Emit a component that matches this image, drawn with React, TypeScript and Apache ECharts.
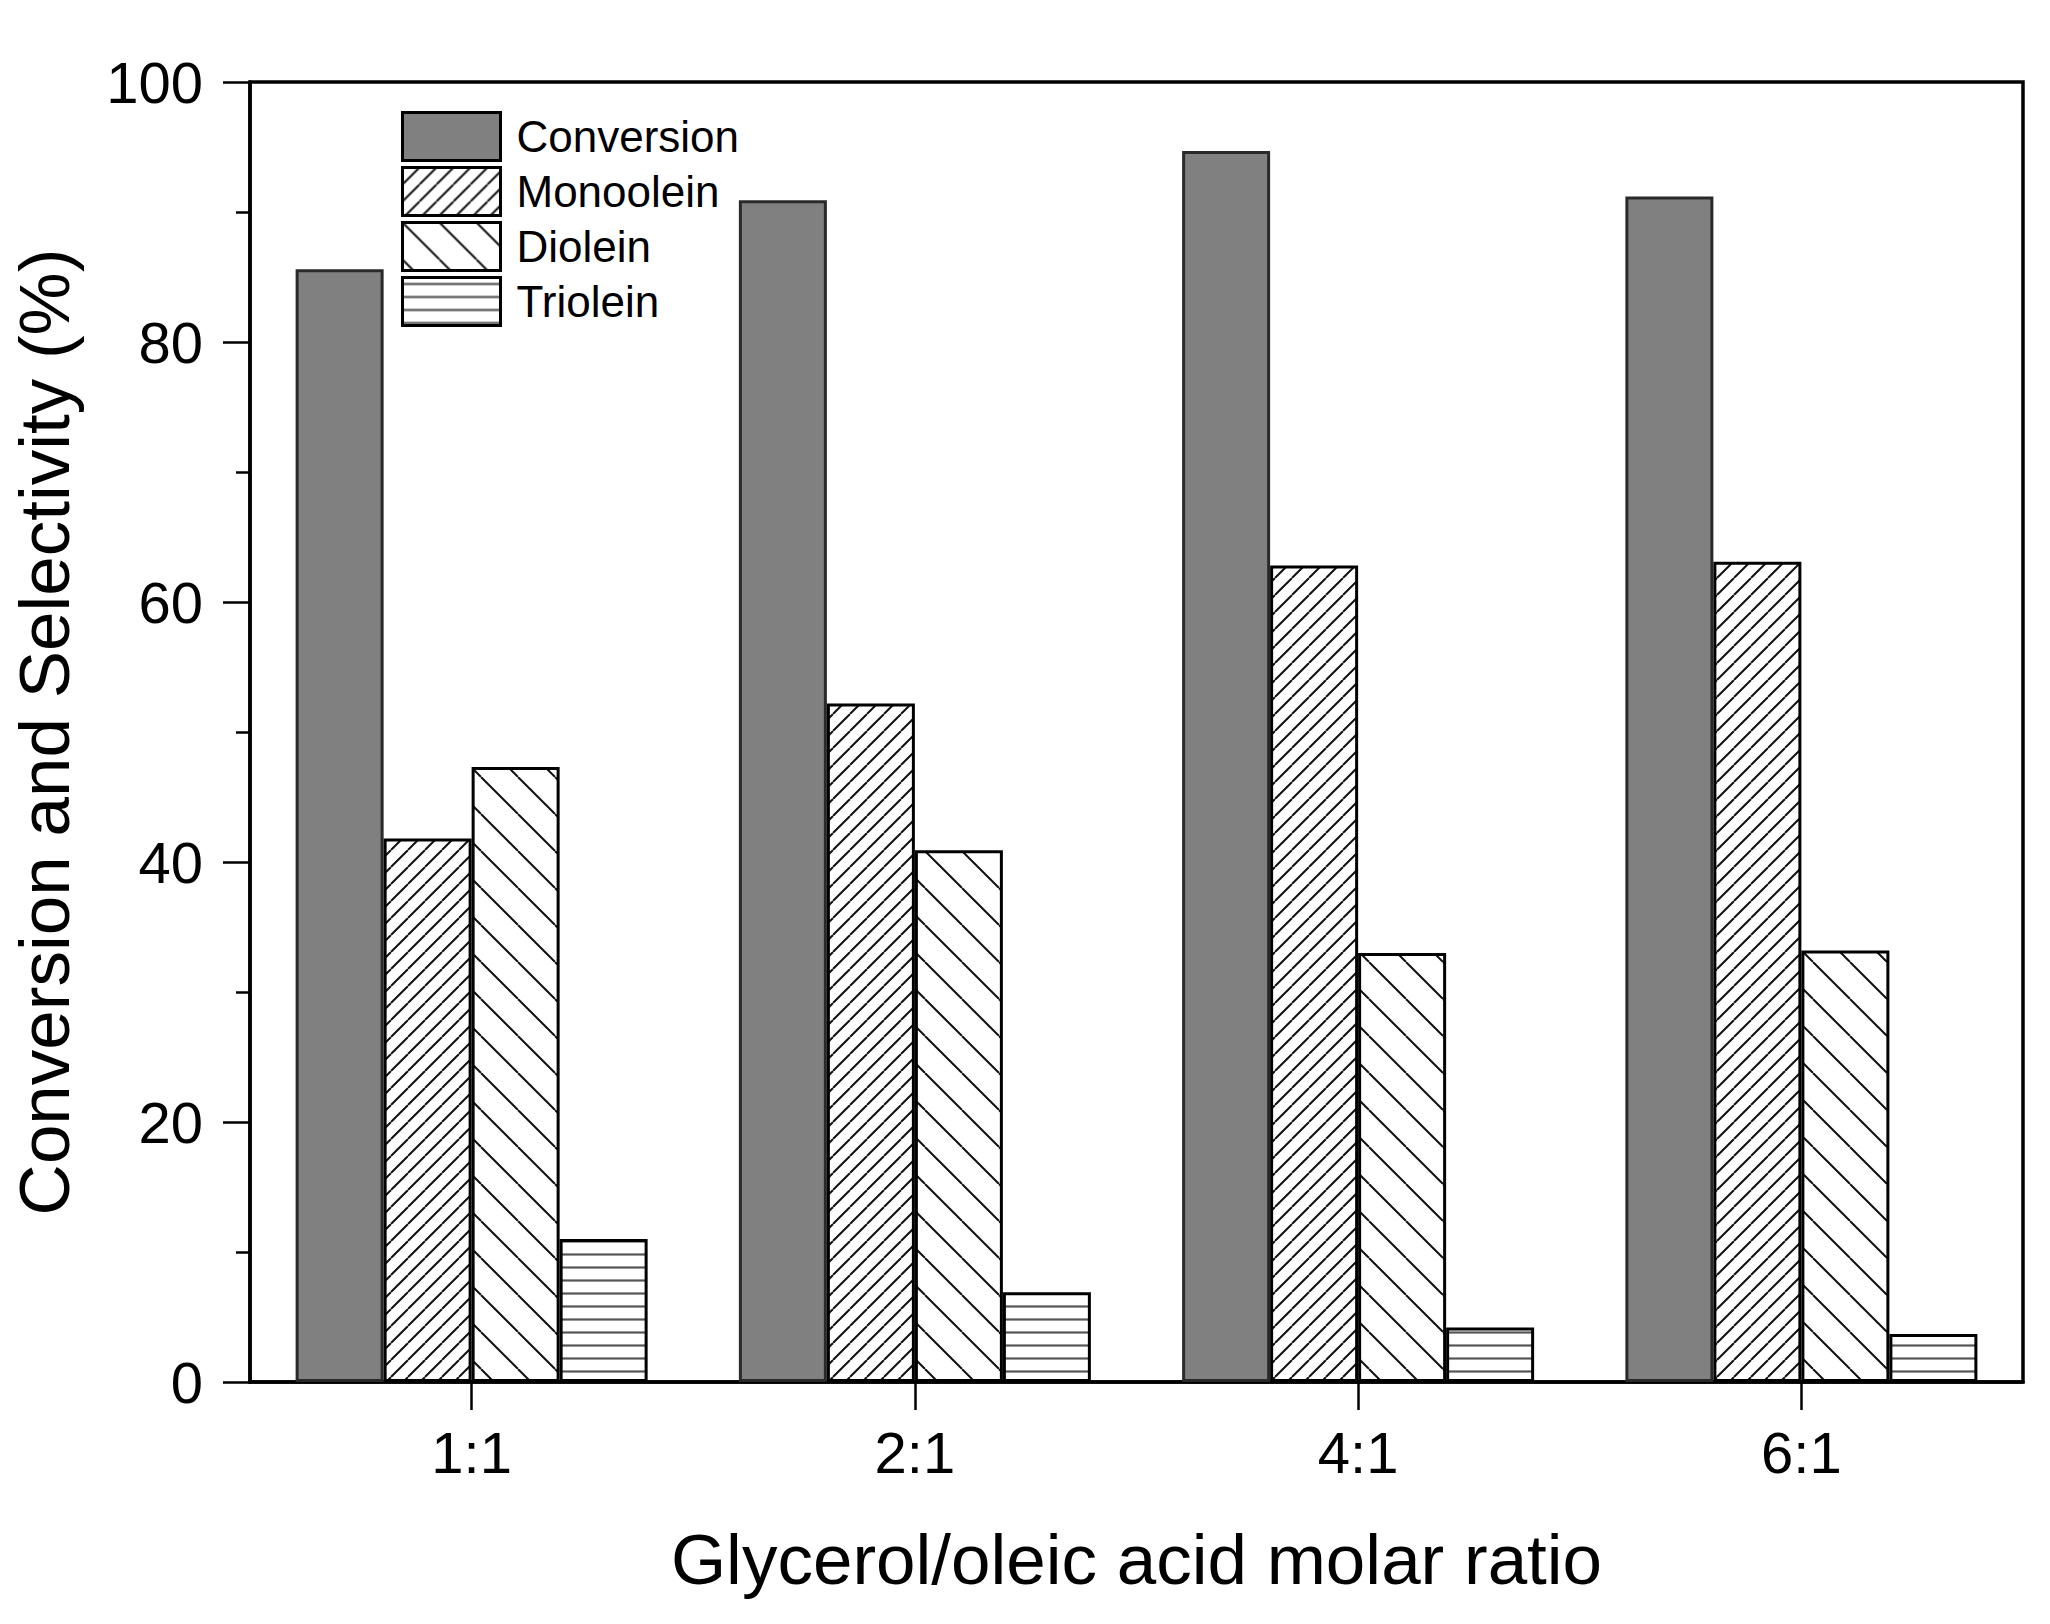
import React, { useEffect, useRef } from 'react';
import * as echarts from 'echarts';

const categories = ['1:1', '2:1', '4:1', '6:1'];
const seriesNames = ['Conversion', 'Monoolein', 'Diolein', 'Triolein'];
const conversion = [85.6, 90.9, 94.7, 91.2];
const monoolein = [41.8, 52.2, 62.8, 63.1];
const diolein = [47.3, 40.9, 33.0, 33.2];
const triolein = [11.0, 6.9, 4.2, 3.7];
const yMin = 0;
const yMax = 100;
const yInterval = 20;

const FONT = "'Liberation Sans', Arial, Helvetica, sans-serif";

function makeHatch(kind: string, size: number, color: string, lw: number) {
  const c = document.createElement('canvas');
  c.width = size;
  c.height = size;
  const ctx = c.getContext('2d') as CanvasRenderingContext2D;
  ctx.fillStyle = '#ffffff';
  ctx.fillRect(0, 0, size, size);
  ctx.strokeStyle = color;
  ctx.lineWidth = lw;
  ctx.beginPath();
  if (kind === 'fwd') {
    for (const o of [-size, 0, size]) {
      ctx.moveTo(o, size);
      ctx.lineTo(o + size, 0);
    }
  } else if (kind === 'back') {
    for (const o of [-size, 0, size]) {
      ctx.moveTo(o, 0);
      ctx.lineTo(o + size, size);
    }
  } else {
    ctx.moveTo(0, size / 2);
    ctx.lineTo(size, size / 2);
  }
  ctx.stroke();
  return { type: 'pattern', image: c, repeat: 'repeat', imageWidth: size, imageHeight: size } as any;
}

export default function App() {
  const ref = useRef<HTMLDivElement>(null);
  useEffect(() => {
    document.body.style.margin = '0';
    if (!ref.current) return;
    const chart = echarts.init(ref.current, undefined, { renderer: 'svg' });
    const monoPattern = makeHatch('fwd', 17, '#111111', 2);
    const dioPattern = makeHatch('back', 37, '#111111', 2);
    const triPattern = makeHatch('horiz', 13, '#555555', 2.2);
    const values = [conversion, monoolein, diolein, triolein];
    const fills: any[] = ['#808080', monoPattern, dioPattern, triPattern];
    const borders = ['#2a2a2a', '#000000', '#000000', '#000000'];
    chart.setOption({
      animation: false,
      backgroundColor: '#ffffff',
      grid: {
        left: 250,
        right: 27,
        top: 82,
        bottom: 242,
        show: true,
        borderColor: '#000',
        borderWidth: 3.5,
        backgroundColor: 'transparent',
      },
      legend: {
        orient: 'vertical',
        left: 401,
        top: 111,
        padding: 0,
        itemWidth: 98,
        itemHeight: 48,
        itemGap: 4,
        icon: 'rect',
        selectedMode: false,
        data: seriesNames,
        itemStyle: { borderColor: '#000', borderWidth: 3 },
        textStyle: {
          fontSize: 44,
          color: '#000',
          fontFamily: FONT,
          padding: [0, 0, 0, 11],
          lineHeight: 48,
        },
      },
      xAxis: {
        type: 'category',
        data: categories,
        name: 'Glycerol/oleic acid molar ratio',
        nameLocation: 'middle',
        nameGap: 142,
        nameTextStyle: { fontSize: 71, color: '#000', fontFamily: FONT },
        axisLine: { show: true, lineStyle: { color: '#000', width: 3.5 } },
        axisTick: { show: true, alignWithLabel: true, length: 28, lineStyle: { color: '#000', width: 2.5 } },
        axisLabel: { fontSize: 58, color: '#000', fontFamily: FONT, margin: 41 },
        splitLine: { show: false },
      },
      yAxis: {
        type: 'value',
        min: yMin,
        max: yMax,
        interval: yInterval,
        name: 'Conversion and Selectivity (%)',
        nameLocation: 'middle',
        nameGap: 170,
        nameTextStyle: { fontSize: 71, color: '#000', fontFamily: FONT },
        axisLine: { show: true, lineStyle: { color: '#000', width: 3.5 } },
        axisTick: { show: true, length: 27, lineStyle: { color: '#000', width: 2.5 } },
        minorTick: { show: true, splitNumber: 2, length: 14, lineStyle: { color: '#000', width: 2.5 } },
        axisLabel: { fontSize: 58, color: '#000', fontFamily: FONT, margin: 47 },
        splitLine: { show: false },
        minorSplitLine: { show: false },
      },
      series: seriesNames.map((name, i) => ({
        name,
        type: 'bar',
        data: values[i],
        barWidth: 88,
        barGap: '0%',
        emphasis: { disabled: true },
        itemStyle: { color: fills[i], borderColor: borders[i], borderWidth: 3 },
      })),
    });
    return () => chart.dispose();
  }, []);
  return <div ref={ref} style={{ width: 2050, height: 1624 }} />;
}
